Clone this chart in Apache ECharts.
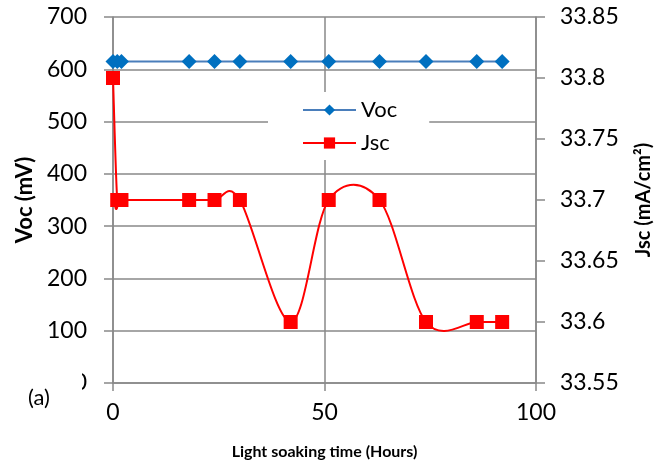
<!DOCTYPE html>
<html>
<head>
<meta charset="utf-8">
<script src="https://cdn.jsdelivr.net/npm/echarts@6/dist/echarts.min.js"></script>
<style>
  html, body { margin: 0; padding: 0; background: #fff; }
  #chart { width: 669px; height: 465px; }
</style>
</head>
<body>
<div id="chart"></div>
<script>
// light soaking time (hours)
const hours = [0, 1, 2, 18, 24, 30, 42, 51, 63, 74, 86, 92];
// open circuit voltage (mV)
const voc = [615, 615, 615, 615, 615, 615, 615, 615, 615, 615, 615, 615];
// short circuit current density (mA/cm2)
const jsc = [33.8, 33.7, 33.7, 33.7, 33.7, 33.7, 33.6, 33.7, 33.7, 33.6, 33.6, 33.6];

const font = "Lato, 'Open Sans', sans-serif";
const gridColor = "#898989";
const red = "#ff0000";

const chart = echarts.init(document.getElementById("chart"));

// Excel-style smoothed segment (cardinal spline, one bezier per pair of points)
function renderJscSegment(params, api) {
  const i = params.dataIndex;
  const n = hours.length;
  if (i >= n - 1) return null;
  const pt = (j) => {
    const k = Math.max(0, Math.min(n - 1, j));
    return api.coord([hours[k], jsc[k]]);
  };
  const p0 = pt(i - 1), p1 = pt(i), p2 = pt(i + 1), p3 = pt(i + 2);
  const t = 1 / 6;
  return {
    type: "bezierCurve",
    shape: {
      x1: p1[0], y1: p1[1],
      x2: p2[0], y2: p2[1],
      cpx1: p1[0] + (p2[0] - p0[0]) * t,
      cpy1: p1[1] + (p2[1] - p0[1]) * t,
      cpx2: p2[0] - (p3[0] - p1[0]) * t,
      cpy2: p2[1] - (p3[1] - p1[1]) * t,
    },
    style: { stroke: red, lineWidth: 2, fill: null },
  };
}

const option = {
  animation: false,
  backgroundColor: "#fff",
  grid: { left: 113, right: 133, top: 17, bottom: 82, outerBoundsMode: "none" },
  legend: {
    orient: "vertical",
    left: 268,
    top: 92,
    padding: [6, 32, 5, 34],
    backgroundColor: "#fff",
    itemWidth: 53,
    itemHeight: 14,
    itemGap: 9,
    textStyle: { fontFamily: font, fontSize: 22, color: "#000", lineHeight: 24 },
    data: [
      "Voc",
      { name: "Jsc", lineStyle: { color: red, width: 2, opacity: 1 } },
    ],
  },
  xAxis: {
    type: "value",
    min: 0,
    max: 100,
    interval: 50,
    name: "Light soaking time (Hours)",
    nameLocation: "middle",
    nameGap: 61,
    nameTextStyle: { fontFamily: font, fontSize: 16, fontWeight: "bold", color: "#000" },
    axisLine: { lineStyle: { color: gridColor, width: 1.5 } },
    axisTick: { show: true, length: 8, lineStyle: { color: gridColor, width: 1.5 } },
    axisLabel: { fontFamily: font, fontSize: 23, color: "#000", margin: 18 },
    splitLine: { show: true, lineStyle: { color: gridColor, width: 1.5 } },
  },
  yAxis: [
    {
      type: "value",
      min: 0,
      max: 700,
      interval: 100,
      name: "Voc (mV)",
      nameLocation: "middle",
      nameGap: 77,
      nameTextStyle: { fontFamily: font, fontSize: 22, fontWeight: "bold", color: "#000" },
      axisLine: { show: true, lineStyle: { color: gridColor, width: 1.5 } },
      axisTick: { show: true, length: 9, lineStyle: { color: gridColor, width: 1.5 } },
      axisLabel: { fontFamily: font, fontSize: 23, color: "#000", margin: 26 },
      splitLine: { show: true, lineStyle: { color: gridColor, width: 1.5 } },
    },
    {
      type: "value",
      min: 33.55,
      max: 33.85,
      interval: 0.05,
      position: "right",
      name: "Jsc (mA/cm²)",
      nameLocation: "middle",
      nameGap: 98,
      nameRotate: 90,
      nameTextStyle: { fontFamily: font, fontSize: 20, fontWeight: "bold", color: "#000" },
      axisLine: { show: true, lineStyle: { color: gridColor, width: 1.5 } },
      axisTick: { show: true, length: 9, lineStyle: { color: gridColor, width: 1.5 } },
      axisLabel: {
        fontFamily: font, fontSize: 23, color: "#000", margin: 24,
        formatter: (v) => String(parseFloat(v.toFixed(2))),
      },
      splitLine: { show: false },
    },
  ],
  series: [
    {
      name: "Voc",
      type: "line",
      yAxisIndex: 0,
      data: hours.map((h, i) => [h, voc[i]]),
      symbol: "diamond",
      symbolSize: 15,
      itemStyle: { color: "#0070c0" },
      lineStyle: { color: "#4a7ebb", width: 2 },
      z: 3,
    },
    {
      name: "Jsc curve",
      type: "custom",
      yAxisIndex: 1,
      data: hours.map((h, i) => [h, jsc[i]]),
      renderItem: renderJscSegment,
      silent: true,
      z: 4,
    },
    {
      name: "Jsc",
      type: "line",
      yAxisIndex: 1,
      data: hours.map((h, i) => [h, jsc[i]]),
      symbol: "rect",
      symbolSize: 14,
      itemStyle: { color: red },
      lineStyle: { color: red, width: 0, opacity: 0 },
      z: 5,
    },
  ],
  graphic: [
    {
      type: "rect",
      z: 100,
      shape: { x: 58, y: 368, width: 24, height: 26 },
      style: { fill: "#fff" },
    },
    {
      type: "text",
      z: 101,
      left: 28,
      top: 387,
      style: { text: "(a)", fontFamily: font, fontSize: 22, fill: "#000" },
    },
  ],
};

chart.setOption(option);
</script>
</body>
</html>
